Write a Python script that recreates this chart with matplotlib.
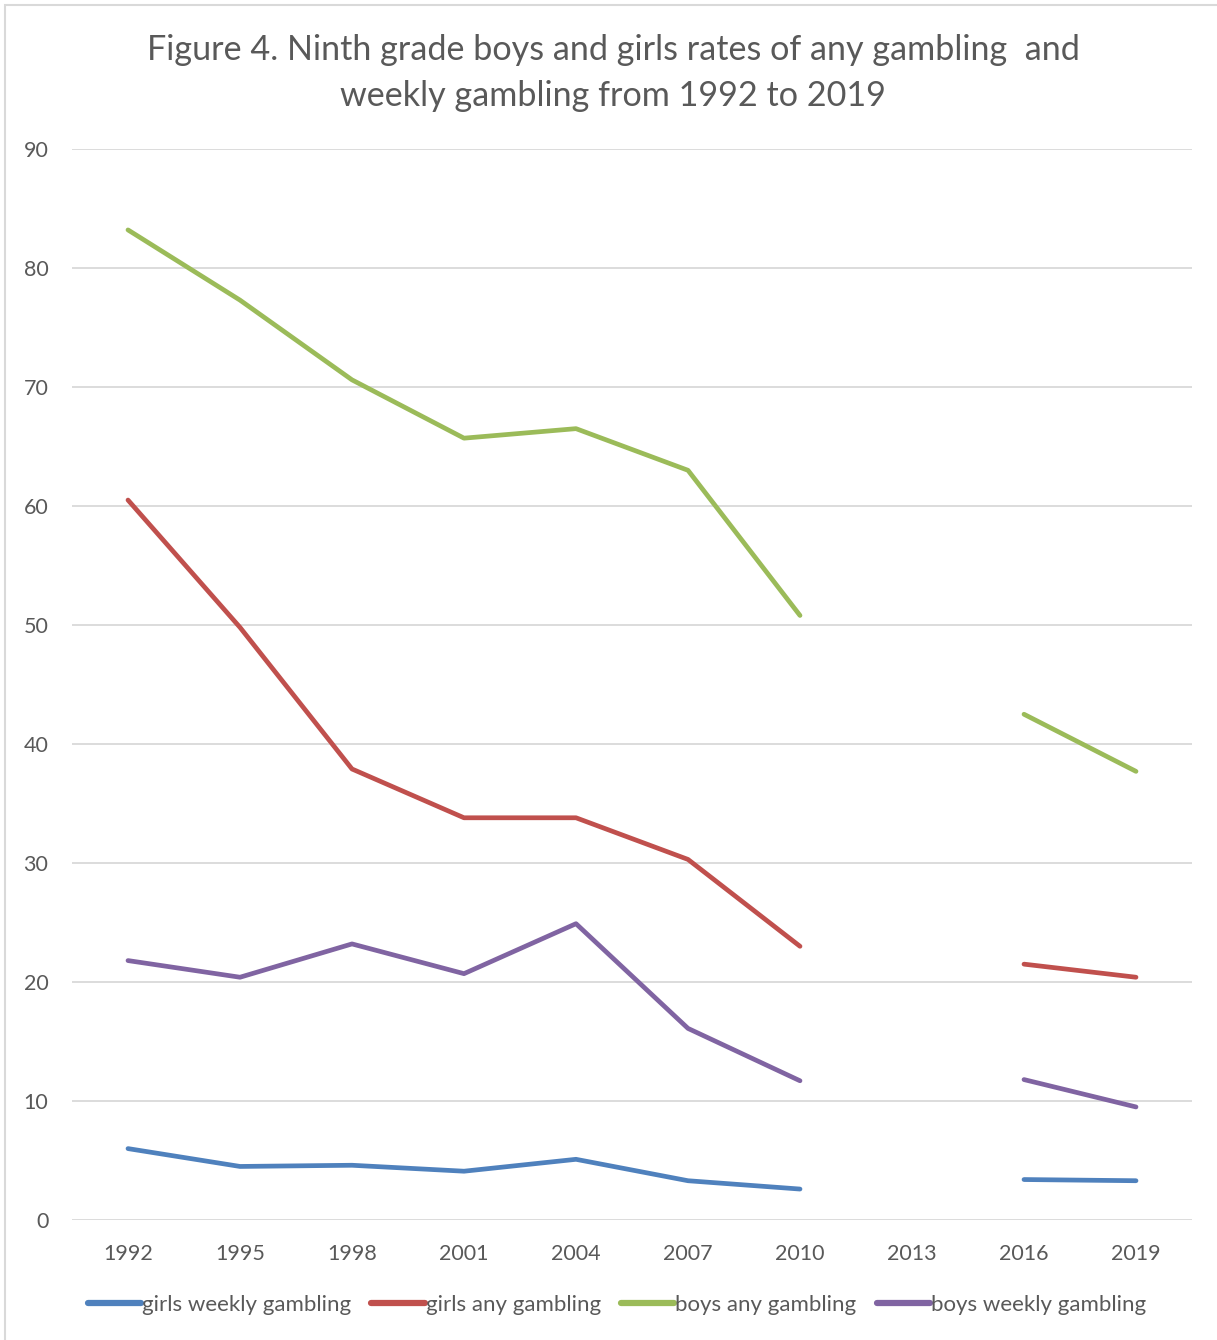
import numpy as np
import matplotlib
matplotlib.use("Agg")
import matplotlib.pyplot as plt
from matplotlib.patches import Rectangle

years = ["1992", "1995", "1998", "2001", "2004", "2007", "2010", "2013", "2016", "2019"]
nan = np.nan
girls_weekly = [6.0, 4.5, 4.6, 4.1, 5.1, 3.3, 2.6, nan, 3.4, 3.3]
girls_any = [60.5, 49.8, 37.9, 33.8, 33.8, 30.3, 23.0, nan, 21.5, 20.4]
boys_any = [83.2, 77.3, 70.6, 65.7, 66.5, 63.0, 50.8, nan, 42.5, 37.7]
boys_weekly = [21.8, 20.4, 23.2, 20.7, 24.9, 16.1, 11.7, nan, 11.8, 9.5]

series = [
    ("girls weekly gambling", girls_weekly, "#4F81BD"),
    ("girls any gambling", girls_any, "#C0504D"),
    ("boys any gambling", boys_any, "#9BBB59"),
    ("boys weekly gambling", boys_weekly, "#8064A2"),
]

text_color = "#595959"
plt.rcParams["font.family"] = ["Lato", "DejaVu Sans"]

fig = plt.figure(figsize=(12.17, 13.40), dpi=100)
fig.patches.append(Rectangle((5 / 1217, -0.01), 1.02, 1 - 5 / 1340 + 0.01,
                             transform=fig.transFigure, fill=False,
                             edgecolor="#D9D9D9", linewidth=1.5))

ax = fig.add_axes([72 / 1217, 1 - 1220 / 1340, 1120 / 1217, 1071 / 1340])
x = np.arange(len(years))
for label, vals, color in series:
    ax.plot(x, vals, color=color, linewidth=3.4, label=label,
            solid_capstyle="round", solid_joinstyle="round")

ax.set_xlim(-0.5, len(years) - 0.5)
ax.set_ylim(0, 90)
ax.set_yticks(np.arange(0, 91, 10))
ax.set_xticks(x)
ax.set_xticklabels(years)
ax.yaxis.grid(True, color="#D9D9D9", linewidth=1.3)
ax.set_axisbelow(True)
for s in ax.spines.values():
    s.set_visible(False)
ax.tick_params(axis="both", length=0, labelsize=15.5, colors=text_color)
ax.tick_params(axis="y", pad=17)
ax.tick_params(axis="x", pad=17.5)
for t in ax.get_yticklabels():
    t.set_horizontalalignment("right")

fig.text(613 / 1217, 1 - 73 / 1340,
         "Figure 4. Ninth grade boys and girls rates of any gambling  and\nweekly gambling from 1992 to 2019",
         ha="center", va="center", fontsize=24.6, color=text_color, linespacing=1.55)

leg = fig.legend(loc="center", bbox_to_anchor=(617 / 1217, 1 - 1305 / 1340), ncol=4,
                 frameon=False, fontsize=16, handlelength=2.4, handletextpad=0.05,
                 columnspacing=0.9, labelcolor=text_color)
for ln in leg.get_lines():
    ln.set_linewidth(4.5)
    ln.set_solid_capstyle("round")

fig.savefig("out.png", dpi=100)
